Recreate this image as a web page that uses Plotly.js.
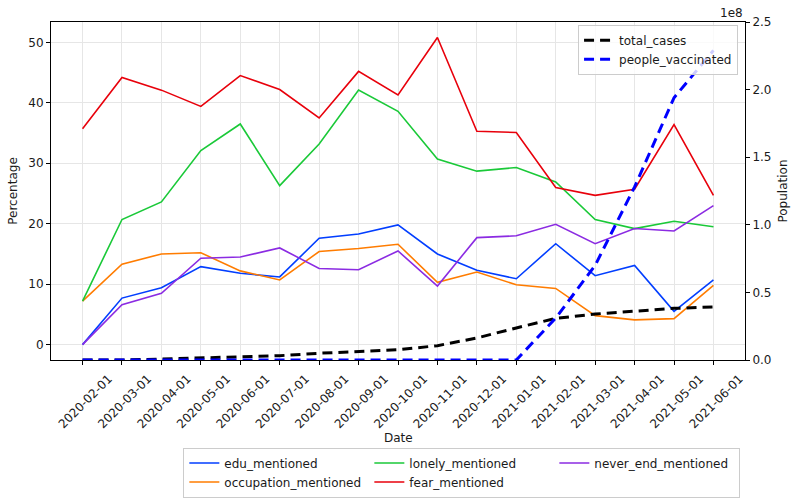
<!DOCTYPE html>
<html>
<head>
<meta charset="utf-8">
<script src="https://cdn.plot.ly/plotly-3.0.1.min.js"></script>
<style>html,body{margin:0;padding:0;background:#fff;}#chart{width:800px;height:501px;}</style>
</head>
<body>
<div id="chart"></div>
<script>
const dates = ["2020-02-01","2020-03-01","2020-04-01","2020-05-01","2020-06-01","2020-07-01","2020-08-01","2020-09-01","2020-10-01","2020-11-01","2020-12-01","2021-01-01","2021-02-01","2021-03-01","2021-04-01","2021-05-01","2021-06-01"];
const eduMentioned = [0.0, 7.7, 9.4, 12.9, 11.8, 11.2, 17.6, 18.3, 19.8, 15.0, 12.3, 10.9, 16.7, 11.4, 13.1, 5.5, 10.7];
const occupationMentioned = [7.2, 13.3, 15.0, 15.2, 12.2, 10.7, 15.4, 15.9, 16.6, 10.3, 12.0, 9.9, 9.3, 4.8, 4.1, 4.3, 9.8];
const lonelyMentioned = [7.2, 20.7, 23.6, 32.1, 36.5, 26.3, 33.2, 42.1, 38.6, 30.7, 28.7, 29.3, 26.9, 20.7, 19.2, 20.4, 19.5];
const fearMentioned = [35.7, 44.2, 42.1, 39.4, 44.5, 42.2, 37.5, 45.2, 41.3, 50.8, 35.3, 35.1, 26.0, 24.7, 25.7, 36.4, 24.7];
const neverEndMentioned = [0.0, 6.6, 8.5, 14.3, 14.5, 16.0, 12.6, 12.4, 15.5, 9.7, 17.7, 18.0, 19.9, 16.7, 19.2, 18.8, 23.0];
const totalCases = [0, 0.0002e8, 0.007e8, 0.017e8, 0.022e8, 0.032e8, 0.050e8, 0.064e8, 0.076e8, 0.106e8, 0.163e8, 0.237e8, 0.308e8, 0.340e8, 0.362e8, 0.382e8, 0.392e8];
const peopleVaccinated = [0, 0, 0, 0, 0, 0, 0, 0, 0, 0, 0, 0, 0.31e8, 0.70e8, 1.28e8, 1.94e8, 2.29e8];
const leftTicks = [0, 10, 20, 30, 40, 50];
const rightTicks = [0, 0.5e8, 1.0e8, 1.5e8, 2.0e8, 2.5e8];
const rightTickLabels = ["0.0", "0.5", "1.0", "1.5", "2.0", "2.5"];

const font = {family: "DejaVu Sans, sans-serif", size: 12, color: "#1a1a1a"};

function pctTrace(name, y, color, rank) {
  return {x: dates, y: y, name: name, type: "scatter", mode: "lines",
    line: {color: color, width: 1.6}, legend: "legend2", legendrank: rank, yaxis: "y"};
}

const traces = [
  pctTrace("edu_mentioned", eduMentioned, "#023eff", 1),
  pctTrace("occupation_mentioned", occupationMentioned, "#ff7c00", 4),
  pctTrace("lonely_mentioned", lonelyMentioned, "#1ac938", 2),
  pctTrace("fear_mentioned", fearMentioned, "#e8000b", 5),
  pctTrace("never_end_mentioned", neverEndMentioned, "#8b2be2", 3),
  {x: dates, y: totalCases, name: "total_cases", type: "scatter", mode: "lines",
    line: {color: "#000000", width: 3, dash: "10px,6px"}, yaxis: "y2", legend: "legend"},
  {x: dates, y: peopleVaccinated, name: "people_vaccinated", type: "scatter", mode: "lines",
    line: {color: "#0000ff", width: 3, dash: "10px,6px"}, yaxis: "y2", legend: "legend"}
];

const layout = {
  width: 800, height: 501,
  margin: {l: 51, r: 55, t: 22, b: 141, autoexpand: false},
  paper_bgcolor: "#ffffff", plot_bgcolor: "#ffffff",
  font: font,
  xaxis: {
    type: "category", range: [-0.8, 16.8], automargin: false,
    tickangle: -45, ticks: "outside", ticklen: 4, tickcolor: "#000",
    ticklabelshift: 26, ticklabelstandoff: 2,
    showgrid: true, gridcolor: "#e6e6e6", gridwidth: 1,
    showline: true, linecolor: "#000", linewidth: 1, mirror: true,
    zeroline: false, tickfont: {size: 12}
  },
  yaxis: {
    range: [-2.54, 53.37], tickvals: leftTicks, automargin: false,
    title: {text: "Percentage", font: {size: 12}, standoff: 8},
    ticks: "outside", ticklen: 4, tickcolor: "#000",
    showgrid: true, gridcolor: "#e6e6e6", gridwidth: 1,
    showline: true, linecolor: "#000", linewidth: 1, mirror: true,
    zeroline: false, tickfont: {size: 12}
  },
  yaxis2: {
    overlaying: "y", side: "right", range: [0, 2.5e8], automargin: false,
    tickvals: rightTicks, ticktext: rightTickLabels,
    title: {text: "Population", font: {size: 12}, standoff: 8},
    ticks: "outside", ticklen: 4, tickcolor: "#000",
    showgrid: false, showline: true, linecolor: "#000", linewidth: 1,
    zeroline: false, tickfont: {size: 12}
  },
  legend: {
    x: 0.99, y: 0.992, xanchor: "right", yanchor: "top",
    bgcolor: "rgba(255,255,255,0.8)", bordercolor: "#cccccc", borderwidth: 1,
    font: {size: 12}, tracegroupgap: 0, itemwidth: 30
  },
  legend2: {
    orientation: "h", x: 0.592, y: -0.259, xanchor: "center", yanchor: "top",
    bgcolor: "rgba(255,255,255,0.8)", bordercolor: "#cccccc", borderwidth: 1,
    font: {size: 12}, entrywidth: 140, entrywidthmode: "pixels", itemwidth: 30
  },
  showlegend: true,
  annotations: [
    {text: "1e8", xref: "paper", yref: "paper", x: 1.0, y: 1.0, xanchor: "right", yanchor: "bottom",
     showarrow: false, font: {size: 12}},
    {text: "Date", xref: "paper", yref: "paper", x: 0.5, y: -0.231, xanchor: "center", yanchor: "middle",
     showarrow: false, font: {size: 12}}
  ]
};

Plotly.newPlot("chart", traces, layout, {displayModeBar: false, staticPlot: true});
</script>
</body>
</html>
